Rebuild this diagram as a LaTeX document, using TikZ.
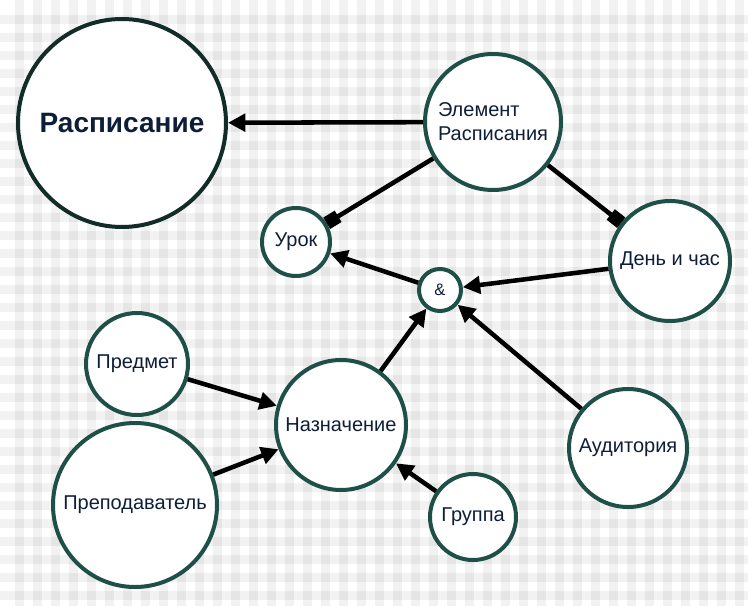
\documentclass[tikz,border=0pt]{standalone}
\usepackage{fontspec}
\setmainfont{Liberation Sans}
\usetikzlibrary{arrows.meta}
\definecolor{ringcol}{RGB}{31,80,72}
\definecolor{bigring}{RGB}{18,44,40}
\definecolor{txtcol}{RGB}{14,30,56}
\tikzset{
  bub/.style={circle,draw=ringcol,line width=3pt,fill=white,text=txtcol,inner sep=0pt,minimum size=#1,font=\fontsize{15}{18}\selectfont},
  link/.style={line width=3.4pt,-{Triangle[length=13pt,width=13pt]}},
  part/.style={line width=3.4pt,-{Square[length=10pt,width=10pt]}}
}
\begin{document}
\begin{tikzpicture}[x=0.75pt,y=-0.75pt]
\useasboundingbox (0,0) rectangle (748,606);
\fill[white] (0,0) rectangle (748,606);
\foreach \k in {0,...,41} \fill[black,opacity=0.05] (15+18*\k,0) rectangle (24+18*\k,606);
\foreach \k in {0,...,33} \fill[black,opacity=0.05] (0,15+18*\k) rectangle (748,24+18*\k);

\node[bub=156pt,draw=bigring,font=\bfseries\fontsize{21}{25}\selectfont] (sched) at (122,123) {Расписание};
\node[bub=102pt,align=left] (elem) at (493,122) {Элемент\\Расписания};
\node[bub=51pt] (lesson) at (296,242) {Урок};
\node[bub=31.5pt,font=\fontsize{12.5}{15}\selectfont] (amp) at (440,290) {\&};
\node[bub=90pt] (time) at (670,261) {День и час};
\node[bub=76.5pt] (subj) at (137,364) {Предмет};
\node[bub=123pt] (teach) at (135,505) {Преподаватель};
\node[bub=97.5pt] (assign) at (341,425) {Назначение};
\node[bub=88.5pt] (room) at (628,448) {Аудитория};
\node[bub=64.5pt] (group) at (473,517) {Группа};

\draw[link] (elem) -- (sched);
\draw[part] (elem) -- (lesson);
\draw[part] (elem) -- (time);
\draw[link] (amp) -- (lesson);
\draw[link] (time) -- (amp);
\draw[link] (assign) -- (amp);
\draw[link] (room) -- (amp);
\draw[link] (subj) -- (assign);
\draw[link] (teach) -- (assign);
\draw[link] (group) -- (assign);
\end{tikzpicture}
\end{document}
